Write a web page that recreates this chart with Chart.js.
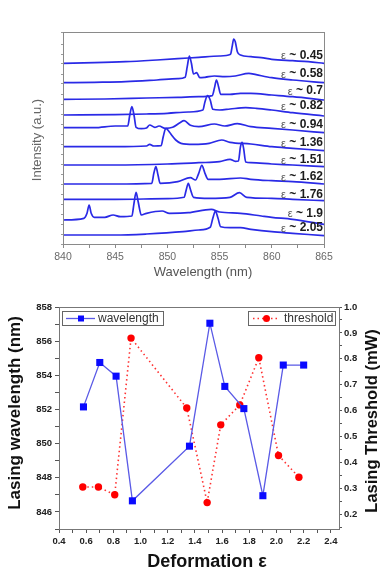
<!DOCTYPE html>
<html>
<head>
<meta charset="utf-8">
<script src="https://cdn.jsdelivr.net/npm/chart.js@4.4.0/dist/chart.umd.min.js"></script>
<style>
  body { margin: 0; background: #fff; }
  #wrap { position: relative; width: 382px; height: 578px; }
  canvas { position: absolute; left: 0; }
  #spectra { top: 0; }
  #lasing { top: 290px; }
</style>
</head>
<body>
<div id="wrap">
  <canvas id="spectra" width="382" height="290"></canvas>
  <canvas id="lasing" width="382" height="288"></canvas>
</div>
<script>
// ---- spectra (top panel): [wavelength nm, stacked intensity a.u.] ----
const epsLabels = ["0.45", "0.58", "0.7", "0.82", "0.94", "1.36", "1.51", "1.62", "1.76", "1.9", "2.05"];

const s045 = [[840,180.7],[843,181.3],[846,182.3],[849,184],[851,185.3],[853,186.7],[855,188],[856.05,189.7],[856.2,197.3],[856.35,205],[856.5,202.3],[856.7,192.3],[857,189],[858,187.3],[859,186.3],[860,184.7],[862,183.3],[863.5,182.3],[865,180.7]];
const s058 = [[840,161.3],[843,161.7],[846,162.3],[849,164],[851,165.3],[851.7,166.7],[851.9,177.3],[852.1,188],[852.3,180.7],[852.5,170],[852.8,171.3],[853.1,166.3],[853.6,166.7],[854.5,168],[855.5,167.3],[856.5,168],[857.8,170.7],[858.5,169.3],[860,166.3],[862,164],[865,161.3]];
const s070 = [[840,144.7],[844,145],[848,146],[851,146.7],[853,147.3],[854.3,148.3],[854.5,155.7],[854.7,164],[854.9,157.3],[855.1,149.7],[856,149.7],[857,150.7],[858,150.7],[860,149],[862,147.3],[865,144]];
const s082 = [[840,129],[845,129.3],[848,130],[850,130.7],[852,132],[853.4,134],[853.6,142.3],[853.85,148.3],[854.1,144],[854.35,134.7],[855,134],[856,135],[857.5,136.3],[858.5,135.7],[860,134],[862,131.3],[865,128]];
const s094 = [[840,116.3],[843,116.3],[845,118],[846.2,118],[846.4,129],[846.6,137.3],[846.8,129],[847,116.7],[847.5,115.3],[848,116],[848.3,119],[848.8,116.7],[849.2,118],[849.8,115.7],[850.5,116.7],[851.2,121.3],[851.6,123.3],[852.2,118.7],[853,117.3],[854.5,120],[855.5,118],[856.7,120.3],[858,117.3],[860,115.7],[862,114],[865,111.3]];
const s136 = [[840,97.3],[845,97.3],[848,98],[848.3,99.7],[848.7,98],[849.4,98.3],[849.6,107.3],[849.85,115.7],[850.1,113.3],[850.4,109],[850.8,104],[851.3,100.7],[852.5,99.7],[854,100.7],[855.2,104],[856,101.7],[858,100],[860,97.3],[862,95.7],[865,93.3]];
const s151 = [[840,79],[845,79],[850,80],[853,81.3],[855,82.3],[856,84.7],[856.5,82.7],[856.8,83],[857,97.3],[857.15,101.7],[857.3,95.7],[857.5,82],[858,81.3],[860,80],[862,79],[865,77.3]];
const s162 = [[840,60],[845,60],[848.5,60.7],[848.7,70.7],[848.9,77.3],[849.1,69],[849.3,60.7],[851,62.3],[852.2,66.3],[852.7,64],[853,70.7],[853.3,78.7],[853.6,70.7],[853.9,64.7],[855,64.7],[857,66],[858,64.7],[860,63.3],[862,62.3],[865,60]];
const s176 = [[840,44.7],[845,44.7],[850,45.3],[851.6,46.7],[851.8,54],[852,60.7],[852.2,54.7],[852.5,46.7],[854,45.7],[856,46.7],[856.9,51.3],[857.6,46.7],[860,45.7],[862,44.7],[865,43.3]];
const s190 = [[840,24],[842,25.7],[842.3,30.7],[842.5,39],[842.7,30.7],[843,26.7],[844,26.7],[844.8,29],[845.5,27.3],[846.6,28],[846.8,40.7],[847,51.7],[847.2,42.3],[847.5,29],[848,30.7],[849.5,33],[850.2,30.7],[852,31.3],[854.2,34.7],[855,32],[857,30.7],[859,28],[860,26.7],[862,24.7],[865,19.7]];
const s205 = [[840,9],[845,9],[848,10],[851.5,12.3],[853,14],[854.1,16.7],[854.35,25.7],[854.6,33],[854.85,25.7],[855.1,17.3],[856,16.3],[857,16.3],[858,14.7],[860,12.3],[862,10.7],[865,8.3]];

const spectra = [s045, s058, s070, s082, s094, s136, s151, s162, s176, s190, s205];

// ---- lasing wavelength / threshold vs deformation (bottom panel) ----
const deformWl = [0.58, 0.7, 0.82, 0.94, 1.36, 1.51, 1.62, 1.76, 1.9, 2.05, 2.2];
const lasingWl = [852.15, 854.75, 853.95, 846.65, 849.85, 857.05, 853.35, 852.05, 846.95, 854.6, 854.6];
const deformTh = [0.575, 0.69, 0.81, 0.93, 1.34, 1.49, 1.59, 1.73, 1.87, 2.015, 2.165];
const threshold = [0.305, 0.305, 0.275, 0.88, 0.61, 0.245, 0.545, 0.622, 0.804, 0.427, 0.343];

const FONT = "Arial, 'Liberation Sans', sans-serif";

// frame around plot area
const framePlugin = {
  id: "frame",
  afterDraw(chart) {
    const { ctx, chartArea: a } = chart;
    ctx.save();
    ctx.strokeStyle = chart.options.plugins.frame.color;
    ctx.lineWidth = 1;
    ctx.strokeRect(Math.round(a.left) + 0.5, Math.round(a.top) + 0.5, Math.round(a.right - a.left), Math.round(a.bottom - a.top));
    ctx.restore();
  },
};

// free texts (axis titles)
function textsPlugin(items) {
  return {
    id: "texts",
    afterDraw(chart) {
      const ctx = chart.ctx;
      items.forEach((t) => {
        ctx.save();
        ctx.font = t.font;
        ctx.fillStyle = t.color;
        ctx.textAlign = "center";
        ctx.textBaseline = "middle";
        ctx.translate(t.x, t.y);
        if (t.rot) ctx.rotate(t.rot);
        ctx.fillText(t.text, 0, 0);
        ctx.restore();
      });
    },
  };
}

// "ε ~ x" labels at the right of every trace
const epsPlugin = {
  id: "eps",
  afterDatasetsDraw(chart) {
    const { ctx, chartArea, scales } = chart;
    spectra.forEach((s, i) => {
      const p = s.find((d) => d[0] === 860);
      const py = scales.y.getPixelForValue(p[1]) - 4;
      const right = chartArea.right - 1;
      ctx.save();
      ctx.textAlign = "right";
      ctx.textBaseline = "middle";
      ctx.font = `bold 12px ${FONT}`;
      ctx.fillStyle = "#1c1c1c";
      const rest = "~ " + epsLabels[i];
      ctx.fillText(rest, right, py);
      const w = ctx.measureText(" " + rest).width;
      ctx.font = `11px ${FONT}`;
      ctx.fillStyle = "#555";
      ctx.fillText("ε", right - w, py + 1);
      ctx.restore();
    });
  },
};

// two separate legend boxes
const legendPlugin = {
  id: "legendBoxes",
  afterDraw(chart) {
    const ctx = chart.ctx;
    ctx.save();
    ctx.strokeStyle = "#666";
    ctx.lineWidth = 1;
    ctx.strokeRect(62.5, 21.5, 101, 14);
    ctx.strokeRect(248.5, 21.5, 87, 14);

    // wavelength sample
    ctx.strokeStyle = "#5a5ae6";
    ctx.lineWidth = 1.3;
    ctx.beginPath();
    ctx.moveTo(66, 28.5);
    ctx.lineTo(95, 28.5);
    ctx.stroke();
    ctx.fillStyle = "#0a0aff";
    ctx.fillRect(78, 25.5, 6, 6);

    // threshold sample
    ctx.strokeStyle = "#ff3030";
    ctx.lineWidth = 1.5;
    ctx.setLineDash([1.5, 3]);
    ctx.beginPath();
    ctx.moveTo(253, 28.5);
    ctx.lineTo(280, 28.5);
    ctx.stroke();
    ctx.setLineDash([]);
    ctx.fillStyle = "#ff0000";
    ctx.beginPath();
    ctx.arc(266.5, 28.5, 3.5, 0, Math.PI * 2);
    ctx.fill();

    ctx.font = `12px ${FONT}`;
    ctx.fillStyle = "#333";
    ctx.textBaseline = "middle";
    ctx.textAlign = "left";
    ctx.fillText("wavelength", 98, 28.5);
    ctx.fillText("threshold", 284, 28.5);
    ctx.restore();
  },
};

// ---- top chart ----
new Chart(document.getElementById("spectra"), {
  type: "line",
  data: {
    datasets: spectra.map((s) => ({
      data: s.map(([x, y]) => ({ x, y })),
      borderColor: "#2a2ae6",
      borderWidth: 1.7,
      pointRadius: 0,
      cubicInterpolationMode: "monotone",
    })),
  },
  options: {
    responsive: false,
    animation: false,
    devicePixelRatio: 1,
    layout: { padding: { top: 32, right: 58, left: 0, bottom: 0 } },
    plugins: { legend: { display: false }, tooltip: { enabled: false }, frame: { color: "#8a8a8a" } },
    scales: {
      x: {
        type: "linear",
        min: 840,
        max: 865,
        afterFit: (s) => { s.height = 46; },
        ticks: {
          stepSize: 2.5,
          autoSkip: false,
          includeBounds: false,
          maxRotation: 0,
          padding: 3,
          color: "#6a6a6a",
          font: { family: FONT, size: 10.5 },
          callback: (v) => (v % 5 === 0 ? String(v) : ""),
        },
        grid: { drawOnChartArea: false, tickLength: 4, tickColor: "#8a8a8a" },
        border: { color: "#8a8a8a" },
      },
      y: {
        min: 0,
        max: 212,
        afterFit: (s) => { s.width = 63; },
        ticks: { stepSize: 10, autoSkip: false, callback: () => "", font: { size: 6 } },
        grid: { drawOnChartArea: false, tickLength: 2, tickColor: "#9a9a9a" },
        border: { color: "#8a8a8a" },
      },
    },
  },
  plugins: [
    framePlugin,
    epsPlugin,
    textsPlugin([
      { text: "Wavelength (nm)", x: 203, y: 272, font: `13px ${FONT}`, color: "#555" },
      { text: "Intensity (a.u.)", x: 37, y: 140, rot: -Math.PI / 2, font: `13px ${FONT}`, color: "#666" },
    ]),
  ],
});

// ---- bottom chart ----
new Chart(document.getElementById("lasing"), {
  type: "line",
  data: {
    datasets: [
      {
        label: "wavelength",
        yAxisID: "y",
        data: deformWl.map((x, i) => ({ x, y: lasingWl[i] })),
        borderColor: "#5a5ae6",
        borderWidth: 1.3,
        pointStyle: "rect",
        pointRadius: 5,
        pointBorderWidth: 0,
        pointBackgroundColor: "#0a0aff",
      },
      {
        label: "threshold",
        yAxisID: "y2",
        data: deformTh.map((x, i) => ({ x, y: threshold[i] })),
        borderColor: "#ff3030",
        borderWidth: 1.6,
        borderDash: [1.5, 3],
        pointStyle: "circle",
        pointRadius: 3.7,
        pointBorderWidth: 0,
        pointBackgroundColor: "#ff0000",
      },
    ],
  },
  options: {
    responsive: false,
    animation: false,
    devicePixelRatio: 1,
    layout: { padding: { top: 17, right: 0, left: 0, bottom: 0 } },
    plugins: { legend: { display: false }, tooltip: { enabled: false }, frame: { color: "#777" } },
    scales: {
      x: {
        type: "linear",
        min: 0.4,
        max: 2.46,
        afterFit: (s) => { s.height = 49; },
        ticks: {
          stepSize: 0.1,
          autoSkip: false,
          includeBounds: false,
          maxRotation: 0,
          padding: 3,
          color: "#222",
          font: { family: FONT, size: 9.5, weight: "bold" },
          callback: (v) => (Math.round(v * 10) % 2 === 0 ? v.toFixed(1) : ""),
        },
        grid: { drawOnChartArea: false, tickLength: 4, tickColor: "#555" },
        border: { color: "#555" },
      },
      y: {
        position: "left",
        min: 845,
        max: 858,
        afterFit: (s) => { s.width = 59; },
        ticks: {
          stepSize: 1,
          autoSkip: false,
          padding: 3,
          color: "#222",
          font: { family: FONT, size: 9.5, weight: "bold" },
          callback: (v) => (v % 2 === 0 ? String(v) : ""),
        },
        grid: { drawOnChartArea: false, tickLength: 4, tickColor: "#555" },
        border: { color: "#555" },
      },
      y2: {
        position: "right",
        min: 0.143,
        max: 1.0,
        afterFit: (s) => { s.width = 43; },
        ticks: {
          stepSize: 0.05,
          autoSkip: false,
          includeBounds: false,
          padding: 2,
          color: "#222",
          font: { family: FONT, size: 9.5, weight: "bold" },
          callback: (v) => (Math.round(v * 100) % 10 === 0 ? v.toFixed(1) : ""),
        },
        grid: { drawOnChartArea: false, tickLength: 3, tickColor: "#555" },
        border: { color: "#555" },
      },
    },
  },
  plugins: [
    framePlugin,
    legendPlugin,
    textsPlugin([
      { text: "Deformation ε", x: 207, y: 272, font: `bold 18px ${FONT}`, color: "#111" },
      { text: "Lasing wavelength (nm)", x: 15, y: 123, rot: -Math.PI / 2, font: `bold 17px ${FONT}`, color: "#111" },
      { text: "Lasing Threshold (mW)", x: 372, y: 131, rot: -Math.PI / 2, font: `bold 16.5px ${FONT}`, color: "#111" },
    ]),
  ],
});
</script>
</body>
</html>
